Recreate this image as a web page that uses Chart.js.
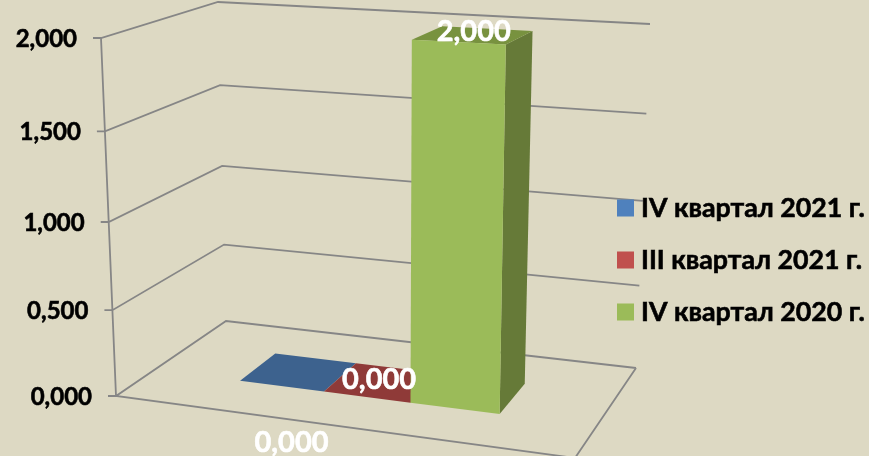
<!DOCTYPE html>
<html>
<head>
<meta charset="utf-8">
<script src="https://cdn.jsdelivr.net/npm/chart.js@4"></script>
<style>
  html, body { margin: 0; padding: 0; background: #ddd9c3; }
  canvas { display: block; }
</style>
</head>
<body>
<canvas id="chart" width="869" height="456"></canvas>
<script>
// Данные с картинки
const categories = [''];
const seriesNames = ['IV квартал 2021 г.', 'III квартал 2021 г.', 'IV квартал 2020 г.'];
const seriesValues = [[0], [0], [2]];
const seriesColors = ['#4f81bd', '#c0504d', '#9bbb59'];
const topColors = ['#3d628e', '#8f3a38', '#78923f'];
const sideColors = ['#2f4c6e', '#6e2d2b', '#667a38'];

const FAMILY = "Lato, 'Open Sans', sans-serif";
const GRID = '#868686';

// Углы "коробки" псевдо-3D: передний левый, задний левый, задний правый, передний правый
const FLOOR = [[116, 396], [226, 321], [636, 368], [575, 458]];
const CEIL = [[101, 38], [218, 2], [650, 24], [585, 64]];
const BAR_DEPTH = [0.35, 0.70];
const LABEL_NUDGE = [[-7, 70], [-3, -3], [1, -4]];

const lerp = (a, b, t) => a + (b - a) * t;
const warp = (t, k) => t / (t + k * (1 - t));
const decimalOf = (scale, v) => scale.getDecimalForPixel(scale.getPixelForValue(v));

// u - вдоль оси X, w - в глубину, t - доля высоты по оси Y
function project(u, w, t) {
    const tt = warp(t, 1.0576);
    const at = i => [lerp(FLOOR[i][0], CEIL[i][0], tt), lerp(FLOOR[i][1], CEIL[i][1], tt)];
    const [fl, bl, br, fr] = [at(0), at(1), at(2), at(3)];
    const lx = lerp(fl[0], bl[0], w), ly = lerp(fl[1], bl[1], w);
    const rx = lerp(fr[0], br[0], w), ry = lerp(fr[1], br[1], w);
    return [lerp(lx, rx, u), lerp(ly, ry, u)];
}

const xDepth = (chart, px) => warp(chart.scales.x.getDecimalForPixel(px), 1.08);

function poly(ctx, pts, fill) {
    ctx.beginPath();
    pts.forEach((p, i) => i ? ctx.lineTo(p[0], p[1]) : ctx.moveTo(p[0], p[1]));
    ctx.closePath();
    ctx.fillStyle = fill;
    ctx.fill();
}

// шрифт в оригинале плотнее, чем Lato Bold
function heavyText(ctx, text, x, y) {
    ctx.strokeStyle = ctx.fillStyle;
    ctx.lineWidth = 0.6;
    ctx.strokeText(text, x, y);
    ctx.fillText(text, x, y);
}

const box3d = {
    id: 'box3d',
    beforeDatasetsDraw(chart) {
        const { ctx } = chart;
        const y = chart.scales.y;
        ctx.save();

        // стены и пол вместо обычной сетки
        ctx.strokeStyle = GRID;
        ctx.lineWidth = 1.8;
        ctx.beginPath();
        y.ticks.forEach(tick => {
            const t = decimalOf(y, tick.value);
            const a = project(0, 0, t), b = project(0, 1, t), c = project(1, 1, t);
            ctx.moveTo(a[0] - 8, a[1]);
            ctx.lineTo(a[0], a[1]);
            ctx.lineTo(b[0], b[1]);
            ctx.lineTo(c[0], c[1]);
        });
        const top = project(0, 0, 1), low = project(0, 0, 0);
        ctx.moveTo(top[0], top[1]);
        ctx.lineTo(low[0], low[1]);
        const fr = project(1, 0, 0), br = project(1, 1, 0);
        ctx.lineTo(fr[0], fr[1]);
        ctx.lineTo(br[0], br[1]);
        ctx.stroke();

        // подписи оси
        ctx.font = 'bold 24px ' + FAMILY;
        ctx.fillStyle = '#000';
        ctx.textAlign = 'right';
        ctx.textBaseline = 'middle';
        y.ticks.forEach(tick => {
            const a = project(0, 0, decimalOf(y, tick.value));
            heavyText(ctx, tick.label, a[0] - 24, a[1] + 1);
        });

        // столбцы из элементов Chart.js, слева направо (зеленый поверх)
        seriesValues.forEach((vals, i) => {
            chart.getDatasetMeta(i).data.forEach((el, n) => {
                const u0 = xDepth(chart, el.x - el.width / 2);
                const u1 = xDepth(chart, el.x + el.width / 2);
                const t = decimalOf(y, vals[n]);
                const [w0, w1] = BAR_DEPTH;
                poly(ctx, [project(u1, w0, 0), project(u1, w1, 0), project(u1, w1, t), project(u1, w0, t)], sideColors[i]);
                poly(ctx, [project(u0, w0, t), project(u1, w0, t), project(u1, w1, t), project(u0, w1, t)], topColors[i]);
                poly(ctx, [project(u0, w0, 0), project(u1, w0, 0), project(u1, w0, t), project(u0, w0, t)], seriesColors[i]);
            });
        });
        ctx.restore();
    },
    // обычные плоские столбцы не нужны
    beforeDatasetDraw() {
        return false;
    },
    afterDatasetsDraw(chart) {
        const { ctx } = chart;
        const y = chart.scales.y;
        ctx.save();
        ctx.textBaseline = 'middle';

        // подписи значений
        ctx.font = 'bold 29px ' + FAMILY;
        ctx.fillStyle = '#fff';
        ctx.textAlign = 'center';
        seriesValues.forEach((vals, i) => {
            const el = chart.getDatasetMeta(i).data[0];
            const pt = project(xDepth(chart, el.x), 0.525, decimalOf(y, vals[0]));
            heavyText(ctx, vals[0].toFixed(3).replace('.', ','), pt[0] + LABEL_NUDGE[i][0], pt[1] + LABEL_NUDGE[i][1]);
        });

        // легенда
        ctx.font = 'bold 26.75px ' + FAMILY;
        ctx.textAlign = 'left';
        seriesNames.forEach((name, i) => {
            const rowY = 208 + i * 52;
            ctx.fillStyle = seriesColors[i];
            ctx.fillRect(617, rowY - 8.5, 17, 17);
            ctx.fillStyle = '#000';
            heavyText(ctx, name, 641, rowY);
        });
        ctx.restore();
    }
};

new Chart(document.getElementById('chart'), {
    type: 'bar',
    data: {
        labels: categories,
        datasets: seriesNames.map((name, i) => ({
            label: name,
            data: seriesValues[i],
            backgroundColor: seriesColors[i],
            barPercentage: 1,
            categoryPercentage: 0.588
        }))
    },
    options: {
        responsive: false,
        animation: false,
        plugins: {
            tooltip: { enabled: false },
            legend: { display: false }
        },
        scales: {
            x: { display: false },
            y: {
                display: false,
                min: 0,
                max: 2,
                ticks: { stepSize: 0.5, callback: v => v.toFixed(3).replace('.', ',') }
            }
        }
    },
    plugins: [box3d]
});
</script>
</body>
</html>
